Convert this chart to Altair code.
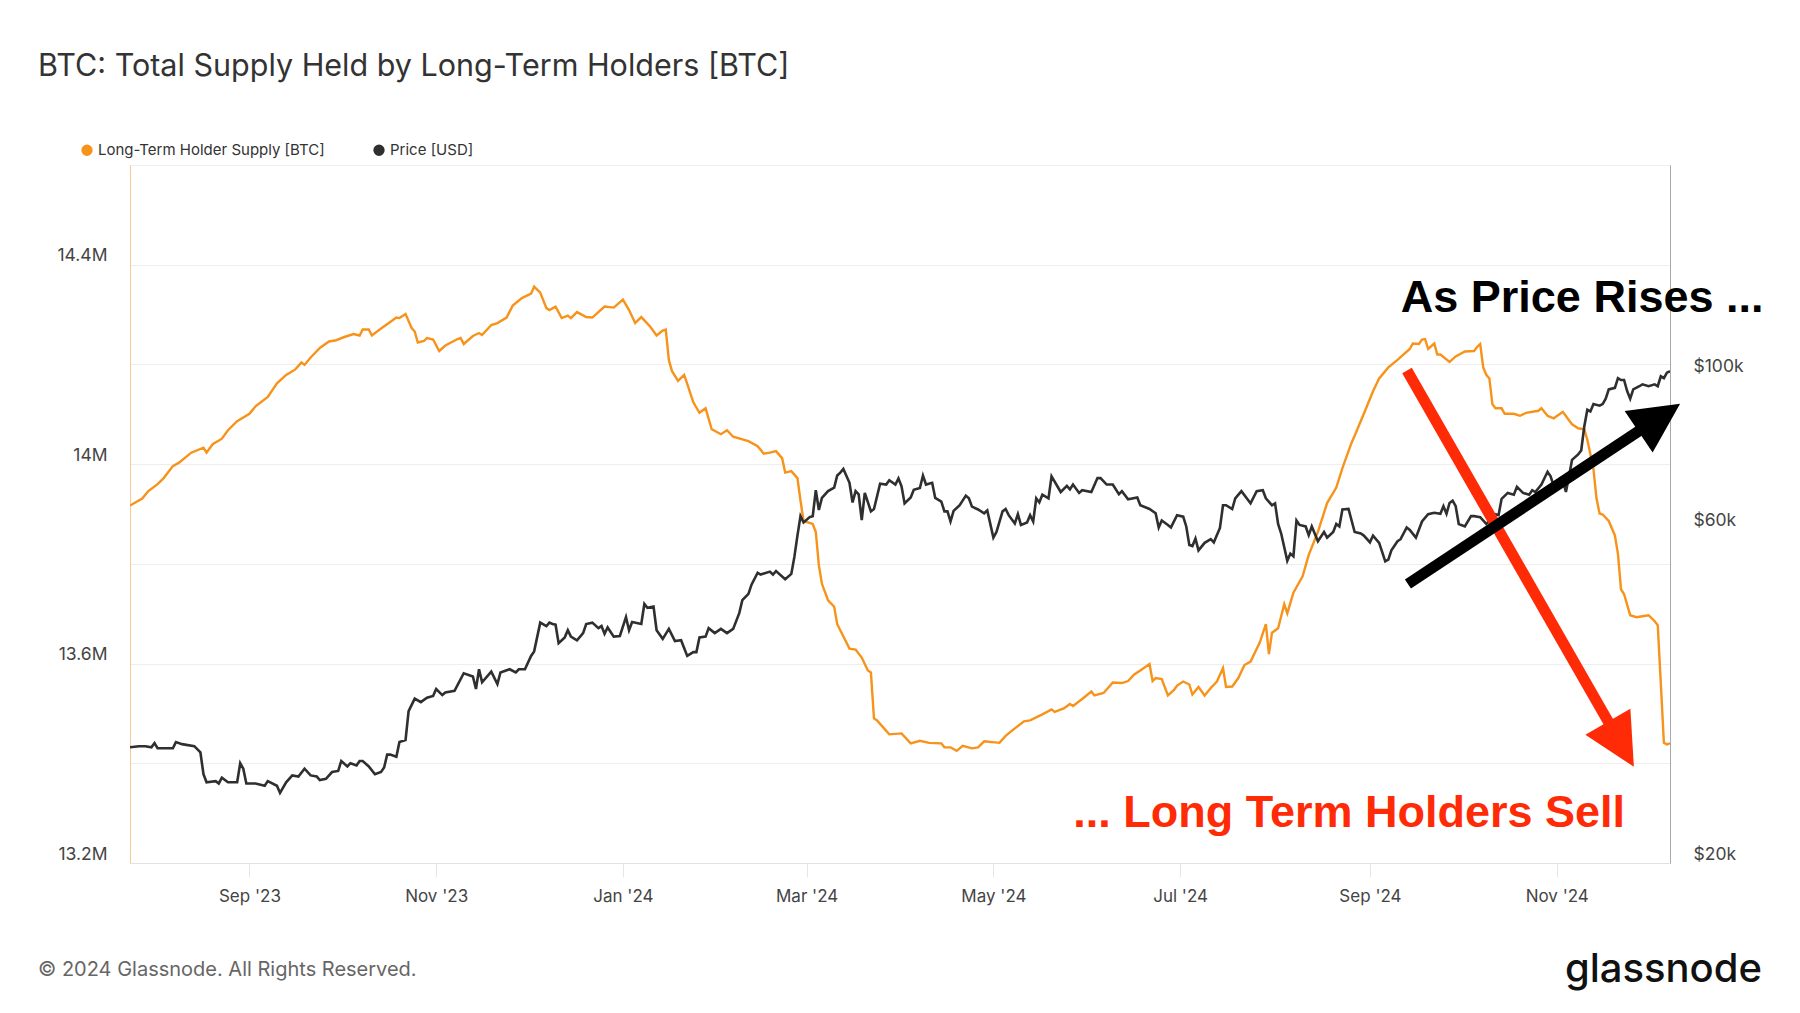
import altair as alt
import pandas as pd
import numpy as np

START = "2023-07-24"

TITLE = "BTC: Total Supply Held by Long-Term Holders [BTC]"
FOOTER = "© 2024 Glassnode. All Rights Reserved."
BRAND = "glassnode"
SERIES = ["Long-Term Holder Supply [BTC]", "Price [USD]"]
COLORS = ["#f7931a", "#2f2f2f"]
RED = "#ff2a06"

# Long-term holder supply: day offset from START, value in millions of BTC
SUP_DAY = [0, 4, 6, 9, 11, 14, 16, 20, 24, 25, 27, 30, 32, 35, 39, 41, 45, 48, 51, 54, 56, 57, 59, 62, 65, 67, 70, 73, 75, 76,
           78, 79, 82, 85, 87, 88, 90, 92, 93, 94, 96, 97, 99, 101, 103, 107, 108, 109, 112, 114, 115, 118, 120, 123, 125, 128, 131, 132, 134, 136,
           137, 139, 141, 143, 144, 146, 149, 151, 155, 158, 161, 163, 165, 167, 170, 172, 174, 175, 176, 177, 179, 181, 182, 184, 186, 188, 190, 193, 195, 197,
           202, 205, 207, 209, 211, 213, 214, 216, 218, 219, 220, 223, 224, 225, 226, 228, 230, 231, 235, 237, 239, 241, 242, 243, 244, 246, 248, 252, 255, 258,
           261, 265, 266, 268, 270, 272, 275, 277, 279, 284, 286, 289, 292, 294, 298, 301, 302, 305, 307, 308, 311, 314, 315, 318, 321, 324, 326, 328, 330, 333,
           334, 335, 337, 339, 341, 342, 344, 346, 347, 349, 351, 353, 355, 357, 358, 360, 362, 364, 366, 369, 371, 372, 373, 375, 377, 378, 380, 383, 385, 388,
           391, 394, 396, 399, 400, 403, 406, 408, 411, 414, 416, 418, 419, 421, 422, 423, 424, 426, 427, 428, 431, 433, 436, 439, 440, 441, 442, 443, 444, 445,
           446, 448, 449, 452, 454, 456, 460, 461, 463, 465, 468, 470, 471, 473, 475, 476, 478, 479, 480, 481, 483, 485, 486, 487, 488, 490, 492, 494, 496, 498,
           499, 500, 501, 502, 503]
SUP_M = [13.917, 13.931, 13.946, 13.960, 13.972, 13.996, 14.003, 14.023, 14.033, 14.023, 14.040, 14.051, 14.068, 14.086, 14.101, 14.116, 14.135, 14.162, 14.179, 14.190,
         14.204, 14.199, 14.214, 14.233, 14.246, 14.248, 14.255, 14.261, 14.258, 14.270, 14.270, 14.258, 14.272, 14.285, 14.294, 14.293, 14.301, 14.273, 14.266, 14.244,
         14.247, 14.253, 14.250, 14.227, 14.238, 14.251, 14.253, 14.241, 14.257, 14.263, 14.259, 14.279, 14.283, 14.294, 14.318, 14.333, 14.342, 14.356, 14.344, 14.313,
         14.309, 14.316, 14.293, 14.298, 14.293, 14.305, 14.295, 14.294, 14.316, 14.314, 14.330, 14.309, 14.283, 14.295, 14.275, 14.258, 14.268, 14.270, 14.209, 14.187,
         14.167, 14.179, 14.161, 14.124, 14.103, 14.112, 14.070, 14.060, 14.068, 14.055, 14.046, 14.036, 14.021, 14.023, 14.026, 14.012, 13.983, 13.986, 13.972, 13.927,
         13.886, 13.880, 13.864, 13.797, 13.760, 13.727, 13.714, 13.679, 13.630, 13.628, 13.612, 13.586, 13.582, 13.490, 13.486, 13.472, 13.458, 13.460, 13.440, 13.445,
         13.441, 13.440, 13.432, 13.432, 13.425, 13.435, 13.430, 13.432, 13.444, 13.441, 13.455, 13.470, 13.484, 13.486, 13.498, 13.508, 13.503, 13.510, 13.519, 13.515,
         13.529, 13.544, 13.536, 13.541, 13.562, 13.561, 13.565, 13.578, 13.586, 13.599, 13.565, 13.571, 13.569, 13.536, 13.547, 13.556, 13.564, 13.558, 13.538, 13.553,
         13.536, 13.551, 13.564, 13.591, 13.553, 13.554, 13.571, 13.597, 13.604, 13.642, 13.679, 13.619, 13.662, 13.671, 13.719, 13.701, 13.742, 13.775, 13.818, 13.864,
         13.922, 13.953, 13.992, 14.043, 14.057, 14.101, 14.146, 14.172, 14.194, 14.209, 14.220, 14.231, 14.242, 14.241, 14.250, 14.251, 14.231, 14.242, 14.220, 14.220,
         14.205, 14.216, 14.226, 14.227, 14.235, 14.241, 14.194, 14.179, 14.172, 14.120, 14.112, 14.112, 14.101, 14.101, 14.097, 14.103, 14.107, 14.112, 14.097, 14.092,
         14.105, 14.088, 14.080, 14.072, 14.070, 14.049, 13.990, 13.931, 13.901, 13.899, 13.886, 13.857, 13.820, 13.749, 13.739, 13.697, 13.693, 13.695, 13.697, 13.685,
         13.677, 13.560, 13.441, 13.438, 13.440]

# BTC price: day offset from START, value in thousands of USD
PRICE_DAY = [0, 3, 5, 7, 8, 9, 14, 15, 17, 21, 23, 24, 25, 28, 29, 30, 32, 35, 36, 37, 38, 41, 44, 45, 48, 49, 51, 53, 55, 57,
             59, 61, 62, 64, 66, 68, 69, 71, 72, 74, 75, 76, 78, 80, 82, 83, 84, 85, 87, 88, 90, 91, 93, 95, 97, 99, 100, 102, 103, 106,
             109, 112, 113, 114, 115, 118, 120, 121, 124, 126, 127, 129, 131, 132, 134, 136, 137, 138, 139, 140, 142, 143, 144, 146, 148, 149, 151, 153, 154, 155,
             156, 158, 160, 162, 163, 164, 167, 168, 169, 171, 172, 174, 176, 178, 180, 182, 184, 185, 186, 188, 189, 191, 193, 195, 197, 199, 200, 202, 203, 205,
             206, 209, 210, 211, 214, 216, 217, 218, 219, 220, 222, 223, 224, 225, 226, 228, 230, 231, 232, 233, 235, 236, 237, 238, 239, 240, 242, 243, 245, 247,
             248, 250, 251, 252, 253, 255, 256, 258, 259, 260, 262, 263, 265, 266, 267, 268, 269, 271, 273, 274, 275, 277, 279, 280, 282, 283, 285, 286, 287, 289,
             290, 291, 293, 294, 295, 296, 297, 298, 300, 301, 304, 306, 307, 308, 310, 311, 314, 316, 317, 319, 321, 323, 324, 326, 329, 330, 333, 335, 336, 337,
             339, 340, 342, 344, 345, 346, 347, 348, 349, 351, 353, 354, 356, 357, 358, 360, 361, 363, 365, 366, 368, 370, 371, 373, 374, 375, 376, 378, 379, 380,
             381, 382, 384, 385, 386, 388, 390, 391, 393, 394, 395, 396, 398, 400, 402, 403, 405, 406, 408, 410, 411, 412, 414, 415, 417, 418, 420, 422, 424, 426,
             428, 429, 430, 431, 432, 433, 434, 436, 438, 439, 441, 443, 444, 446, 447, 448, 450, 452, 453, 455, 457, 458, 459, 461, 463, 464, 465, 468, 469, 470,
             471, 473, 474, 475, 476, 477, 478, 480, 481, 482, 483, 485, 486, 487, 488, 489, 490, 491, 493, 494, 496, 498, 499, 500, 501, 502, 503]
PRICE_K = [29.3, 29.4, 29.4, 29.3, 29.7, 29.2, 29.2, 29.8, 29.6, 29.4, 28.8, 26.8, 26.1, 26.2, 26.0, 26.5, 26.1, 26.1, 27.8, 27.3,
           26.0, 26.0, 25.8, 26.2, 25.8, 25.2, 26.1, 26.7, 26.6, 27.3, 26.7, 26.6, 26.3, 26.4, 27.0, 27.1, 28.0, 27.5, 27.8, 27.6,
           28.0, 28.0, 27.5, 26.8, 27.0, 27.4, 28.6, 28.6, 28.4, 29.8, 30.0, 33.0, 34.4, 34.0, 34.5, 34.7, 35.5, 34.8, 35.1, 35.3,
           37.4, 37.0, 35.5, 37.9, 36.3, 37.6, 36.1, 37.5, 37.9, 37.5, 37.9, 37.9, 39.6, 40.2, 44.2, 43.7, 44.2, 44.0, 43.9, 41.3,
           42.1, 43.1, 42.2, 41.7, 42.7, 44.0, 44.2, 43.4, 43.7, 42.6, 43.5, 42.2, 42.3, 45.0, 43.1, 44.3, 44.0, 47.0, 46.4, 46.6,
           43.1, 41.9, 43.3, 41.6, 41.7, 39.6, 40.1, 40.1, 42.1, 42.2, 43.4, 42.7, 43.3, 42.7, 43.3, 45.6, 47.6, 48.6, 50.1, 52.1,
           51.8, 52.3, 51.8, 52.4, 51.0, 51.9, 54.9, 58.9, 62.8, 61.5, 62.6, 62.8, 68.4, 64.1, 66.7, 68.2, 69.0, 71.8, 72.5, 73.4,
           70.1, 65.7, 68.2, 67.5, 62.0, 67.8, 63.8, 64.3, 69.9, 69.7, 70.7, 69.7, 71.1, 69.3, 65.5, 66.8, 68.5, 68.9, 71.8, 69.7,
           70.1, 66.7, 65.9, 63.8, 63.8, 61.7, 63.9, 65.1, 67.2, 66.6, 64.8, 64.2, 63.4, 64.0, 58.5, 59.6, 63.8, 64.3, 63.0, 61.3,
           63.2, 61.0, 61.5, 63.0, 61.7, 66.6, 65.7, 67.4, 66.6, 71.6, 68.0, 69.4, 68.6, 69.7, 67.8, 68.4, 68.0, 71.2, 71.2, 69.7,
           69.7, 67.5, 68.2, 66.4, 66.8, 65.1, 64.3, 63.4, 60.5, 61.9, 61.0, 60.5, 63.0, 62.7, 60.7, 57.1, 56.9, 58.3, 56.1, 57.5,
           58.2, 57.6, 60.4, 65.1, 65.1, 64.3, 66.6, 68.2, 66.4, 65.5, 68.2, 68.4, 66.6, 65.1, 65.5, 61.2, 59.3, 54.2, 55.5, 55.0,
           61.9, 61.0, 60.7, 59.0, 60.7, 57.8, 59.6, 58.5, 59.6, 61.2, 60.7, 64.2, 64.3, 59.6, 59.3, 58.9, 57.6, 58.9, 57.5, 54.1,
           54.4, 56.1, 57.8, 58.2, 60.5, 60.0, 58.5, 61.7, 63.2, 63.5, 63.3, 64.9, 63.3, 65.6, 66.1, 64.9, 61.2, 60.7, 62.8, 62.8,
           62.6, 61.2, 61.8, 63.2, 63.0, 66.5, 67.8, 67.4, 69.2, 67.8, 67.4, 68.4, 68.0, 69.7, 72.7, 71.6, 69.4, 70.7, 68.0, 71.6,
           75.6, 77.0, 78.0, 84.4, 89.2, 88.7, 90.9, 90.4, 90.9, 92.5, 95.4, 95.9, 99.0, 98.4, 98.4, 94.9, 92.5, 95.4, 96.4, 97.0,
           96.4, 97.0, 96.4, 99.6, 99.0, 100.8, 101.3]

SUPPLY_TICKS = [13.2, 13.4, 13.6, 13.8, 14.0, 14.2, 14.4, 14.6]
PRICE_TICKS = [20000, 40000, 60000, 80000, 100000]

# Annotations (data coordinates: day offset, value)
RED_TEXT = "... Long Term Holders Sell"
BLACK_TEXT = "As Price Rises ..."
RED_ARROW_DAY = [417.1, 483.9]
RED_ARROW_M = [14.188, 13.472]
RED_TIP_DAY, RED_TIP_M = 491.2, 13.393
BLACK_ARROW_DAY = [417.4, 494.0]
BLACK_ARROW_K = [50.2, 83.8]
BLACK_TIP_DAY, BLACK_TIP_K = 506.3, 91.0
RED_TEXT_DAY, RED_TEXT_M = 398.2, 13.273
BLACK_TEXT_DAY, BLACK_TEXT_K = 474.3, 123.1

HEAD = "M0,0L1,2L-1,2Z"

t0 = pd.Timestamp(START)


def to_date(days):
    return t0 + pd.to_timedelta(np.asarray(days, dtype=float), unit="D")


sup = pd.DataFrame({"date": to_date(SUP_DAY), "supply": SUP_M})
price = pd.DataFrame({"date": to_date(PRICE_DAY), "price": np.array(PRICE_K) * 1000})
legend_keys = pd.DataFrame({"series": SERIES, "date": [None, None]})

red_arrow = pd.DataFrame({"d0": to_date([RED_ARROW_DAY[0]]), "d1": to_date([RED_ARROW_DAY[1]]),
                          "v0": [RED_ARROW_M[0]], "v1": [RED_ARROW_M[1]]})
red_tip = pd.DataFrame({"date": to_date([RED_TIP_DAY]), "v": [RED_TIP_M]})
black_arrow = pd.DataFrame({"d0": to_date([BLACK_ARROW_DAY[0]]), "d1": to_date([BLACK_ARROW_DAY[1]]),
                            "v0": [BLACK_ARROW_K[0] * 1000], "v1": [BLACK_ARROW_K[1] * 1000]})
black_tip = pd.DataFrame({"date": to_date([BLACK_TIP_DAY]), "v": [BLACK_TIP_K * 1000]})
red_label = pd.DataFrame({"date": to_date([RED_TEXT_DAY]), "v": [RED_TEXT_M], "t": [RED_TEXT]})
black_label = pd.DataFrame({"date": to_date([BLACK_TEXT_DAY]), "v": [BLACK_TEXT_K * 1000], "t": [BLACK_TEXT]})

X_SCALE = alt.Scale(domain=[alt.DateTime(year=2023, month=7, date=24), alt.DateTime(year=2024, month=12, date=8)], nice=False)
X_VALUES = [alt.DateTime(year=2023, month=9, date=1), alt.DateTime(year=2023, month=11, date=1),
            alt.DateTime(year=2024, month=1, date=1), alt.DateTime(year=2024, month=3, date=1),
            alt.DateTime(year=2024, month=5, date=1), alt.DateTime(year=2024, month=7, date=1),
            alt.DateTime(year=2024, month=9, date=1), alt.DateTime(year=2024, month=11, date=1)]
SUP_SCALE = alt.Scale(domain=[13.2, 14.6], nice=False, zero=False)
PRICE_SCALE = alt.Scale(type="log", domain=[20000, 200000], nice=False)

x_axis = alt.Axis(values=X_VALUES, format="%b '%y", title=None, grid=False, domainColor="#e2e2e2",
                  tickColor="#e6e6e6", tickSize=14, labelPadding=11, labelFont="Inter", labelFontSize=17,
                  labelColor="#444444")

COLOR_SCALE = alt.Scale(domain=SERIES, range=COLORS)
legend = alt.Legend(orient="none", legendX=-50.5, legendY=-22.5, direction="horizontal", title=None,
                    symbolType="circle", symbolSize=128, symbolOpacity=1, symbolStrokeWidth=0,
                    labelFont="Inter", labelFontSize=15, labelColor="#333333", labelOffset=3.5,
                    labelLimit=500, columnPadding=46)


def xd(field):
    return alt.X(field, scale=X_SCALE, axis=x_axis)


legend_layer = alt.Chart(legend_keys).mark_circle(opacity=1, size=128).encode(
    x=xd("date:T"),
    color=alt.Color("series:N", scale=COLOR_SCALE, legend=legend),
)

supply_line = alt.Chart(sup).mark_line(interpolate="linear", clip=True, color=COLORS[0], strokeWidth=2.4).encode(
    x=xd("date:T"),
    y=alt.Y("supply:Q", scale=SUP_SCALE,
            axis=alt.Axis(orient="left", values=SUPPLY_TICKS, title=None, ticks=False,
                          labelExpr="(round(datum.value*10) % 4 == 0) ? datum.value + 'M' : ''",
                          gridColor="#eeeeee", domainColor="#f6c995", labelPadding=23, labelOffset=-9,
                          labelFont="Inter", labelFontSize=17.5, labelColor="#444444")),
)

price_line = alt.Chart(price).mark_line(interpolate="linear", clip=True, color=COLORS[1], strokeWidth=2.6).encode(
    x=xd("date:T"),
    y=alt.Y("price:Q", scale=PRICE_SCALE,
            axis=alt.Axis(orient="right", values=PRICE_TICKS, title=None, ticks=False,
                          labelExpr="indexof([20000, 60000, 100000], datum.value) >= 0 ? '$' + (datum.value/1000) + 'k' : ''",
                          gridColor="#f0f0f0", domainColor="#a9a9a9", labelPadding=23, labelOffset=-9,
                          labelFont="Inter", labelFontSize=17.5, labelColor="#444444")),
)

red_shaft = alt.Chart(red_arrow).mark_rule(color=RED, strokeWidth=11, strokeCap="butt", clip=False).encode(
    x=xd("d0:T"), x2="d1:T",
    y=alt.Y("v0:Q", scale=SUP_SCALE, axis=None), y2="v1:Q")
red_head = alt.Chart(red_tip).mark_point(shape=HEAD, angle=150, size=2704, filled=True, color=RED,
                                          opacity=1, strokeWidth=0, clip=False).encode(
    x=xd("date:T"), y=alt.Y("v:Q", scale=SUP_SCALE, axis=None))

black_shaft = alt.Chart(black_arrow).mark_rule(color="#000000", strokeWidth=11, strokeCap="butt", clip=False).encode(
    x=xd("d0:T"), x2="d1:T",
    y=alt.Y("v0:Q", scale=PRICE_SCALE, axis=None), y2="v1:Q")
black_head = alt.Chart(black_tip).mark_point(shape=HEAD, angle=56, size=2500, filled=True, color="#000000",
                                              opacity=1, strokeWidth=0, clip=False).encode(
    x=xd("date:T"), y=alt.Y("v:Q", scale=PRICE_SCALE, axis=None))

black_text = alt.Chart(black_label).mark_text(font="Liberation Sans", fontWeight="bold", fontSize=45,
                                              color="#000000", align="center", baseline="alphabetic",
                                              clip=False).encode(
    x=xd("date:T"), y=alt.Y("v:Q", scale=PRICE_SCALE, axis=None), text="t:N")
red_text = alt.Chart(red_label).mark_text(font="Liberation Sans", fontWeight="bold", fontSize=45,
                                          color=RED, align="center", baseline="alphabetic",
                                          clip=False).encode(
    x=xd("date:T"), y=alt.Y("v:Q", scale=SUP_SCALE, axis=None), text="t:N")

footer = alt.Chart(pd.DataFrame({"t": [FOOTER]})).mark_text(
    font="Inter", fontSize=20, color="#666666", align="left", baseline="alphabetic").encode(
    x=alt.value(-92), y=alt.value(811), text="t:N")
brand = alt.Chart(pd.DataFrame({"t": [BRAND]})).mark_text(
    font="Inter", fontSize=40, fontWeight=500, color="#111111", align="right", baseline="alphabetic").encode(
    x=alt.value(1632), y=alt.value(817), text="t:N")

chart = alt.layer(
    supply_line, price_line, legend_layer, red_shaft, red_head, black_shaft, black_head,
    black_text, red_text, footer, brand
).resolve_scale(y="independent").properties(
    width=1540, height=698,
    title=alt.TitleParams(TITLE, anchor="start", frame="group", dx=-92, offset=60,
                          font="Inter", fontSize=30.5, fontWeight="normal", color="#333333"),
    autosize=alt.AutoSizeParams(type="none"),
    padding={"left": 122, "top": 157, "right": 122, "bottom": 130},
).configure_view(stroke="#e8e8e8", strokeWidth=1).configure(background="#ffffff")

chart.save("out.html", embed_options={"renderer": "svg", "actions": False})
